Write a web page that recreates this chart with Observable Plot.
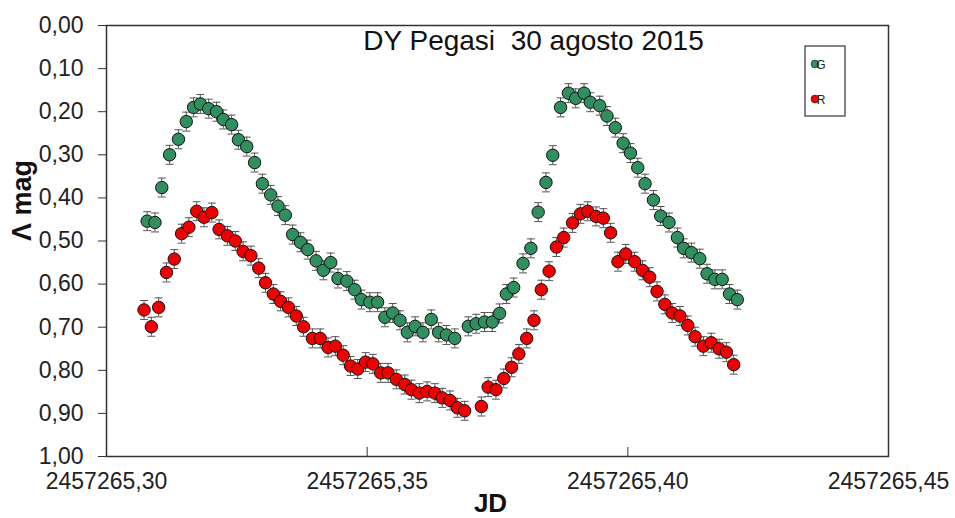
<!DOCTYPE html>
<html>
<head>
<meta charset="utf-8">
<script src="https://cdn.jsdelivr.net/npm/d3@7"></script>
<script src="https://cdn.jsdelivr.net/npm/@observablehq/plot@0.6"></script>
<style>
  html, body { margin: 0; padding: 0; background: #fff; }
  #chart { width: 955px; height: 518px; }
</style>
</head>
<body>
<div id="chart"></div>
<script>
const title = "DY Pegasi\u00a0 30 agosto 2015";
const xLabel = "JD";
const yLabel = "Λ mag";
const xTicks = [2457265.30, 2457265.35, 2457265.40, 2457265.45];
const yTicks = [0, 0.1, 0.2, 0.3, 0.4, 0.5, 0.6, 0.7, 0.8, 0.9, 1.0];
const errorBar = 0.022;

const jdG = [2457265.3078, 2457265.3093, 2457265.3106, 2457265.3121, 2457265.3138, 2457265.3153, 2457265.3167, 2457265.3180, 2457265.3196, 2457265.3211,
  2457265.3224, 2457265.3240, 2457265.3253, 2457265.3269, 2457265.3284, 2457265.3299, 2457265.3315, 2457265.3329, 2457265.3343, 2457265.3357,
  2457265.3372, 2457265.3386, 2457265.3402, 2457265.3416, 2457265.3430, 2457265.3444, 2457265.3461, 2457265.3476, 2457265.3489, 2457265.3505,
  2457265.3520, 2457265.3534, 2457265.3549, 2457265.3563, 2457265.3577, 2457265.3592, 2457265.3607, 2457265.3623, 2457265.3637, 2457265.3652,
  2457265.3668, 2457265.3694, 2457265.3709, 2457265.3725, 2457265.3740, 2457265.3754, 2457265.3767, 2457265.3781, 2457265.3799, 2457265.3814,
  2457265.3828, 2457265.3843, 2457265.3856, 2457265.3871, 2457265.3886, 2457265.3900, 2457265.3916, 2457265.3928, 2457265.3946, 2457265.3960,
  2457265.3976, 2457265.3991, 2457265.4005, 2457265.4019, 2457265.4033, 2457265.4049, 2457265.4063, 2457265.4079, 2457265.4095, 2457265.4107,
  2457265.4122, 2457265.4138, 2457265.4152, 2457265.4167, 2457265.4181, 2457265.4195, 2457265.4210];
const magG = [0.454, 0.457, 0.376, 0.300, 0.264, 0.223, 0.190, 0.182, 0.193, 0.200,
  0.218, 0.230, 0.265, 0.281, 0.318, 0.367, 0.393, 0.419, 0.440, 0.485,
  0.503, 0.520, 0.546, 0.568, 0.550, 0.587, 0.593, 0.613, 0.636, 0.642,
  0.642, 0.677, 0.667, 0.684, 0.712, 0.698, 0.712, 0.682, 0.712, 0.718,
  0.726, 0.698, 0.692, 0.688, 0.688, 0.668, 0.623, 0.608, 0.552, 0.517,
  0.433, 0.364, 0.301, 0.190, 0.157, 0.169, 0.157, 0.178, 0.186, 0.210,
  0.237, 0.273, 0.296, 0.330, 0.367, 0.405, 0.442, 0.457, 0.492, 0.517,
  0.527, 0.541, 0.576, 0.589, 0.589, 0.623, 0.636];

const jdR = [2457265.3072, 2457265.3086, 2457265.3100, 2457265.3115, 2457265.3130, 2457265.3144, 2457265.3158, 2457265.3173, 2457265.3187, 2457265.3202,
  2457265.3216, 2457265.3232, 2457265.3247, 2457265.3262, 2457265.3277, 2457265.3292, 2457265.3305, 2457265.3320, 2457265.3334, 2457265.3349,
  2457265.3364, 2457265.3378, 2457265.3395, 2457265.3410, 2457265.3425, 2457265.3439, 2457265.3454, 2457265.3468, 2457265.3482, 2457265.3497,
  2457265.3511, 2457265.3526, 2457265.3540, 2457265.3556, 2457265.3572, 2457265.3585, 2457265.3600, 2457265.3615, 2457265.3630, 2457265.3644,
  2457265.3659, 2457265.3673, 2457265.3687, 2457265.3719, 2457265.3732, 2457265.3747, 2457265.3762, 2457265.3777, 2457265.3791, 2457265.3806,
  2457265.3820, 2457265.3834, 2457265.3849, 2457265.3863, 2457265.3877, 2457265.3894, 2457265.3909, 2457265.3923, 2457265.3939, 2457265.3953,
  2457265.3967, 2457265.3981, 2457265.3996, 2457265.4013, 2457265.4028, 2457265.4042, 2457265.4056, 2457265.4071, 2457265.4085, 2457265.4100,
  2457265.4115, 2457265.4129, 2457265.4145, 2457265.4160, 2457265.4175, 2457265.4189, 2457265.4203];
const magR = [0.660, 0.699, 0.654, 0.573, 0.542, 0.483, 0.468, 0.431, 0.445, 0.434,
  0.473, 0.488, 0.500, 0.524, 0.534, 0.563, 0.597, 0.623, 0.640, 0.654,
  0.674, 0.699, 0.726, 0.726, 0.747, 0.744, 0.765, 0.790, 0.797, 0.781,
  0.785, 0.806, 0.806, 0.821, 0.833, 0.845, 0.853, 0.849, 0.853, 0.864,
  0.870, 0.887, 0.894, 0.884, 0.839, 0.845, 0.819, 0.793, 0.762, 0.726,
  0.684, 0.613, 0.570, 0.514, 0.492, 0.458, 0.437, 0.431, 0.443, 0.447,
  0.481, 0.548, 0.530, 0.548, 0.568, 0.584, 0.617, 0.647, 0.667, 0.674,
  0.696, 0.722, 0.744, 0.736, 0.750, 0.758, 0.787];

const green = "#2f8f5f";
const red = "#f00000";

const G = jdG.map((x, i) => ({jd: x, mag: magG[i]}));
const R = jdR.map((x, i) => ({jd: x, mag: magR[i]}));

const fmtComma = d => d.toFixed(2).replace(".", ",");

const capSymbol = {
  draw(ctx, size) {
    const w = Math.sqrt(size) / 2;
    ctx.moveTo(-w, 0);
    ctx.lineTo(w, 0);
  }
};

function errMarks(data) {
  return [
    Plot.ruleX(data, {x: "jd", y1: d => d.mag - errorBar, y2: d => d.mag + errorBar, stroke: "#555", strokeWidth: 1}),
    Plot.dot(data, {x: "jd", y: d => d.mag - errorBar, symbol: capSymbol, r: 4.5, stroke: "#555", strokeWidth: 1, fill: "none"}),
    Plot.dot(data, {x: "jd", y: d => d.mag + errorBar, symbol: capSymbol, r: 4.5, stroke: "#555", strokeWidth: 1, fill: "none"})
  ];
}

const innerH = 518 - 25 - 62;

const plot = Plot.plot({
  width: 955,
  height: 518,
  marginLeft: 106,
  marginRight: 67,
  marginTop: 25,
  marginBottom: 62,
  style: {fontFamily: "'Liberation Sans', Arial, sans-serif", background: "#fff", color: "#222"},
  x: {domain: [2457265.30, 2457265.45]},
  y: {domain: [0, 1], reverse: true},
  marks: [
    Plot.axisY({ticks: yTicks, tickFormat: fmtComma, tickSize: 8, tickPadding: 15, fontSize: 23, label: null, stroke: "#333"}),
    Plot.axisX({ticks: xTicks, tickFormat: fmtComma, tickSize: 0, tickPadding: 16, fontSize: 23, label: null}),
    Plot.ruleX(xTicks.slice(1, -1), {insetTop: innerH - 9, stroke: "#333", strokeWidth: 1}),
    Plot.frame({stroke: "#333", strokeWidth: 1.5}),
    ...errMarks(G),
    ...errMarks(R),
    Plot.dot(G, {x: "jd", y: "mag", r: 6.2, fill: green, stroke: "#111", strokeWidth: 1}),
    Plot.dot(R, {x: "jd", y: "mag", r: 6.2, fill: red, stroke: "#111", strokeWidth: 1}),
    Plot.text([title], {frameAnchor: "top", dx: 36, dy: 16, fontSize: 28, lineAnchor: "middle", fill: "#111"}),
    Plot.text([xLabel], {frameAnchor: "bottom", dx: -7, dy: 47, fontSize: 26, fontWeight: "bold", lineAnchor: "middle", fill: "#111"}),
    Plot.text([yLabel], {frameAnchor: "left", dx: -84, rotate: -90, fontSize: 27, fontWeight: "bold", lineAnchor: "middle", fill: "#111"})
  ]
});

document.getElementById("chart").appendChild(plot);

// Legend box (inside plot, upper right)
const svg = d3.select(plot);
const lg = svg.append("g").attr("font-family", "'Liberation Sans', Arial, sans-serif");
lg.append("rect").attr("x", 805).attr("y", 46).attr("width", 40).attr("height", 70)
  .attr("fill", "#fff").attr("stroke", "#333").attr("stroke-width", 1.2);
const legendItems = [{label: "G", color: green}, {label: "R", color: red}];
legendItems.forEach((it, i) => {
  const cy = 64 + i * 35;
  lg.append("circle").attr("cx", 815).attr("cy", cy).attr("r", 4).attr("fill", it.color).attr("stroke", "#222").attr("stroke-width", 0.6);
  lg.append("text").attr("x", 821).attr("y", cy + 4.5).attr("font-size", 12).attr("fill", "#222").text(it.label);
});
</script>
</body>
</html>
